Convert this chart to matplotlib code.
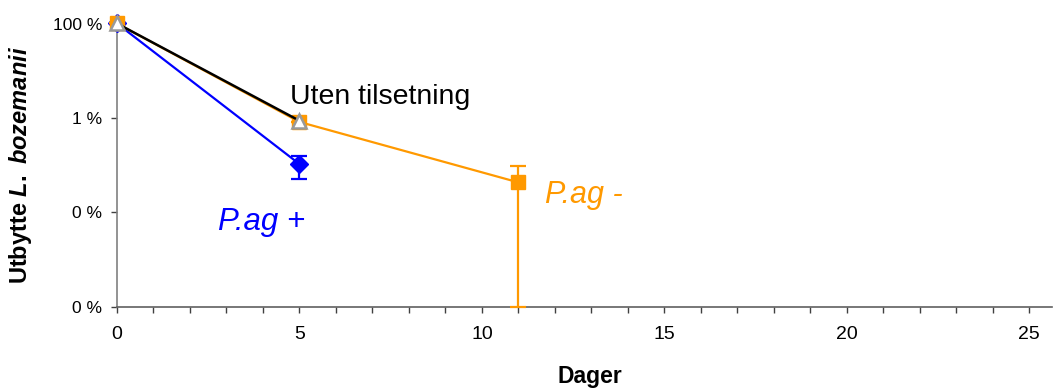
import matplotlib
matplotlib.use("Agg")
import matplotlib.pyplot as plt
from matplotlib.ticker import FixedLocator, FixedFormatter, MultipleLocator

plt.rcParams['font.family'] = ['Liberation Sans', 'DejaVu Sans']
plt.rcParams['mathtext.fontset'] = 'custom'
plt.rcParams['mathtext.it'] = 'Liberation Sans:italic:bold'
plt.rcParams['mathtext.rm'] = 'Liberation Sans:bold'

# Data (yield in percent)
days_uten = [0, 5]
yield_uten = [100, 0.87]

days_pag_plus = [0, 5]
yield_pag_plus = [100, 0.105]
err_pag_plus_low = [0, 0.053]
err_pag_plus_high = [0, 0.053]

days_pag_minus = [0, 5, 11]
yield_pag_minus = [100, 0.82, 0.043]
err_pag_minus_low = [0, 0, 0.0429]
err_pag_minus_high = [0, 0, 0.052]

ytick_vals = [100, 1, 0.01, 0.0001]
ytick_labels = ["100 %", "1 %", "0 %", "0 %"]
xtick_vals = [0, 5, 10, 15, 20, 25]

fig = plt.figure(figsize=(10.54, 3.88), dpi=100)
ax = fig.add_axes([117/1054, 1 - 306.7/388, (1052 - 117)/1054, (306.7 - 23.5)/388])

blue = "#0000FF"
orange = "#FF9900"

ax.errorbar(days_pag_plus, yield_pag_plus, yerr=[err_pag_plus_low, err_pag_plus_high],
            color=blue, lw=1.6, marker="D", ms=9, capsize=5.8, elinewidth=1.6, capthick=1.6,
            zorder=3, clip_on=False)
ax.errorbar(days_pag_minus, yield_pag_minus, yerr=[err_pag_minus_low, err_pag_minus_high],
            color=orange, lw=1.6, marker="s", ms=10, capsize=5.8, elinewidth=1.6, capthick=1.6,
            zorder=4, clip_on=False)
ax.plot(days_uten, yield_uten, color="black", lw=1.8, marker="^", ms=10,
        markerfacecolor="white", markeredgecolor="#999999", markeredgewidth=1.8,
        zorder=5, clip_on=False)

ax.set_yscale("log")
ax.set_ylim(0.0001, 100)
ax.set_xlim(0, 25.62)

ax.yaxis.set_major_locator(FixedLocator(ytick_vals))
ax.yaxis.set_major_formatter(FixedFormatter(ytick_labels))
ax.yaxis.set_minor_locator(FixedLocator([]))
ax.xaxis.set_major_locator(FixedLocator(xtick_vals))
ax.xaxis.set_minor_locator(MultipleLocator(1))

for s in ["top", "right"]:
    ax.spines[s].set_visible(False)
ax.spines["left"].set_color("#808080")
ax.spines["bottom"].set_color("#606060")
ax.spines["left"].set_linewidth(1.2)
ax.spines["bottom"].set_linewidth(1.2)

ax.tick_params(axis="both", which="both", direction="out", length=4.3, width=1,
               color="#404040")
ax.tick_params(axis="x", which="both", labelsize=14, pad=9.6)
ax.tick_params(axis="y", which="both", labelsize=12.5, pad=6.5)

ax.set_xlabel("Dager", fontsize=16.5, fontweight="bold", labelpad=11)
ax.xaxis.set_label_coords(0.506, -0.205)
ax.xaxis.label.set_va("top")
ax.set_ylabel(r"Utbytte $L.\ bozemanii$", fontsize=17, fontweight="bold")
ax.yaxis.set_label_coords(-0.089, 0.5)

ax.text(4.75, 2.77, "Uten tilsetning", fontsize=20.5, color="black", ha="left", va="center")
ax.text(2.78, 0.0063, "P.ag +", fontsize=22.5, color=blue, style="italic", ha="left", va="center")
ax.text(11.73, 0.0234, "P.ag -", fontsize=22, color=orange, style="italic", ha="left", va="center")

fig.savefig("out.png", dpi=100)
